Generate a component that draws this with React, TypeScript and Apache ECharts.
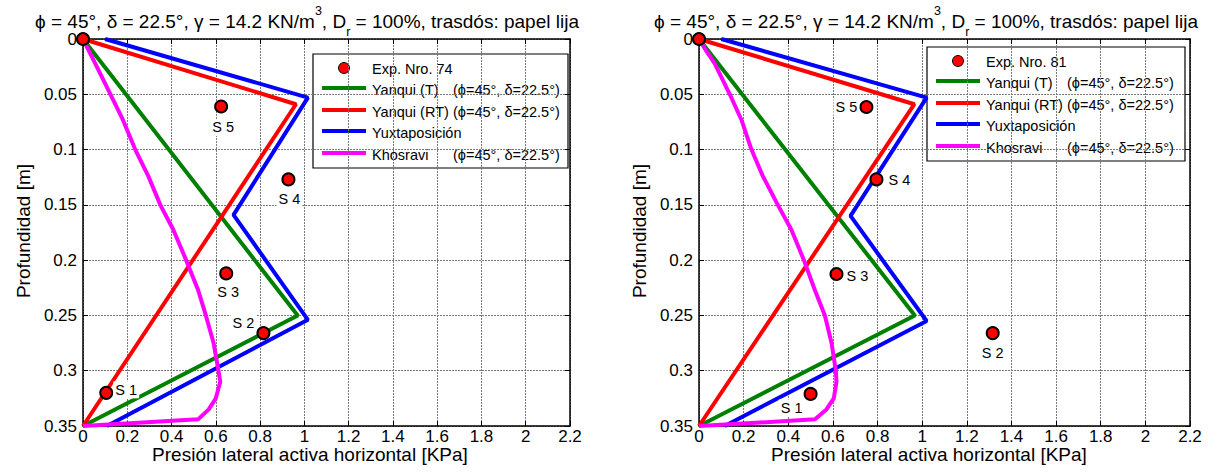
import React, { useEffect, useRef } from 'react';
import * as echarts from 'echarts';

const FONT = '"Liberation Sans", Arial, Helvetica, sans-serif';

// Axis ranges
const depthMin = 0;
const depthMax = 0.35;
const depthStep = 0.05;
const pressMin = 0;
const pressMax = 2.2;
const pressStep = 0.2;

// Texts
const titleParts = ['ϕ = 45°, δ = 22.5°, γ = 14.2 KN/m', '3', ', D', 'r', ' = 100%, trasdós: papel lija'];
const yName = 'Profundidad [m]';
const xName = 'Presión lateral activa horizontal [KPa]';
const legendNames = ['Yanqui (T)', 'Yanqui (RT)', 'Yuxtaposición', 'Khosravi'];
const legendParams = ['(ϕ=45°, δ=22.5°)', '(ϕ=45°, δ=22.5°)', '', '(ϕ=45°, δ=22.5°)'];
const legendColors = ['#008000', '#ff0000', '#0000ff', '#ff00ff'];

// Experimental points
const pointNames = ['', 'S 1', 'S 2', 'S 3', 'S 4', 'S 5'];
const exp74Pressure = [0, 0.105, 0.815, 0.647, 0.928, 0.624];
const exp74Depth = [0, 0.32, 0.266, 0.212, 0.127, 0.061];
const exp81Pressure = [0, 0.5, 1.316, 0.616, 0.795, 0.75];
const exp81Depth = [0, 0.321, 0.266, 0.2125, 0.127, 0.0615];

// Yanqui (T)
const yanquiTDepth = [0, 0.25, 0.35];
const yanquiT74 = [0, 0.97, 0];
const yanquiT81 = [0, 0.967, 0];
// Yanqui (RT)
const yanquiRTDepth = [0, 0.059, 0.35];
const yanquiRT74 = [0, 0.962, 0];
const yanquiRT81 = [0, 0.965, 0];
// Yuxtaposición
const yuxDepth74 = [0, 0.053, 0.159, 0.254, 0.35];
const yux74 = [0.1, 1.016, 0.68, 1.016, 0.108];
const yuxDepth81 = [0, 0.053, 0.16, 0.255, 0.35];
const yux81 = [0.1, 1.02, 0.679, 1.02, 0.115];
// Khosravi
const khosDepth = [0, 0.01, 0.022, 0.05, 0.073, 0.1, 0.124, 0.15, 0.1725, 0.2, 0.227, 0.25, 0.275, 0.3, 0.31, 0.325, 0.335, 0.344, 0.35];
const khos74 = [0, 0.025, 0.055, 0.124, 0.18, 0.236, 0.295, 0.349, 0.408, 0.466, 0.52, 0.555, 0.59, 0.612, 0.62, 0.6, 0.568, 0.52, 0];
const khos81 = [0, 0.03, 0.07, 0.138, 0.19, 0.235, 0.286, 0.353, 0.414, 0.47, 0.519, 0.564, 0.594, 0.613, 0.616, 0.604, 0.571, 0.52, 0];

// Label placement (pixel offsets from each point)
const labelOffsets74 = [[0, 0], [20, -3], [-20, -10], [2, 19], [1, 20], [2, 21]];
const labelOffsets81 = [[0, 0], [-19, 14], [0, 20], [21, 2], [23, 1], [-20, 0]];

const panels = [
  {
    expName: 'Exp. Nro. 74', grid: { left: 83, top: 39, width: 487, height: 387 },
    titleX: 307, xNameX: 310, yNameX: 23,
    legend: { x: 313, y: 54, w: 255, h: 114 },
    pts: [exp74Pressure, exp74Depth], offsets: labelOffsets74,
    lines: [[yanquiT74, yanquiTDepth], [yanquiRT74, yanquiRTDepth], [yux74, yuxDepth74], [khos74, khosDepth]],
  },
  {
    expName: 'Exp. Nro. 81', grid: { left: 699, top: 39, width: 491, height: 387 },
    titleX: 926, xNameX: 929, yNameX: 639,
    legend: { x: 927, y: 47, w: 258, h: 114 },
    pts: [exp81Pressure, exp81Depth], offsets: labelOffsets81,
    lines: [[yanquiT81, yanquiTDepth], [yanquiRT81, yanquiRTDepth], [yux81, yuxDepth81], [khos81, khosDepth]],
  },
];

const fmt = (v: number) => String(Math.round(v * 1000) / 1000);

function buildOption() {
  const grids: any[] = [];
  const xAxes: any[] = [];
  const yAxes: any[] = [];
  const series: any[] = [];
  const graphics: any[] = [];
  const axisLine = { show: true, onZero: false, lineStyle: { color: '#000', width: 1.5 } };
  const axisTick = { show: true, inside: true, length: 5, lineStyle: { color: '#000', width: 1 } };
  const splitLine = { show: true, lineStyle: { color: '#7a7a7a', width: 1, type: [2, 1] } };

  panels.forEach((p, gi) => {
    grids.push({ ...p.grid, containLabel: false, show: false });
    const xBase = { gridIndex: gi, type: 'value', min: pressMin, max: pressMax, interval: pressStep };
    const yBase = { gridIndex: gi, type: 'value', min: depthMin, max: depthMax, interval: depthStep, inverse: true };
    xAxes.push({
      ...xBase, position: 'bottom', axisLine, axisTick, splitLine,
      axisLabel: { color: '#000', fontSize: 17, lineHeight: 14, fontFamily: FONT, margin: 3, formatter: fmt },
    });
    xAxes.push({ ...xBase, position: 'top', axisLine, axisTick, splitLine: { show: false }, axisLabel: { show: false } });
    yAxes.push({
      ...yBase, position: 'left', axisLine, axisTick, splitLine,
      axisLabel: { color: '#000', fontSize: 17, fontFamily: FONT, margin: 6, formatter: fmt },
    });
    yAxes.push({ ...yBase, position: 'right', axisLine, axisTick, splitLine: { show: false }, axisLabel: { show: false } });

    p.lines.forEach(([press, depth], li) => {
      series.push({
        name: legendNames[li], type: 'line', xAxisIndex: gi * 2, yAxisIndex: gi * 2,
        data: press.map((v, i) => [v, depth[i]]), symbol: 'none', clip: false, z: 3,
        lineStyle: { color: legendColors[li], width: 4 }, itemStyle: { color: legendColors[li] },
      });
    });

    const [pp, pd] = p.pts;
    series.push({
      name: p.expName, type: 'scatter', xAxisIndex: gi * 2, yAxisIndex: gi * 2, clip: false, z: 5,
      symbol: 'circle', symbolSize: 12,
      itemStyle: { color: '#ff0000', borderColor: '#000', borderWidth: 2, opacity: 1 },
      label: {
        show: true, position: 'inside', color: '#000', fontSize: 14.5, fontFamily: FONT,
        backgroundColor: '#fff', padding: [1, 2], align: 'center', verticalAlign: 'middle',
      },
      data: pp.map((v, i) => ({
        value: [v, pd[i]],
        label: { show: pointNames[i] !== '', formatter: pointNames[i], offset: p.offsets[i] },
      })),
    });

    // Title
    graphics.push({
      type: 'text', x: p.titleX, y: 21, z: 100,
      style: {
        text: `{a|${titleParts[0]}}{s|${titleParts[1]}}{a|${titleParts[2]}}{b|${titleParts[3]}}{a|${titleParts[4]}}`,
        align: 'center', verticalAlign: 'middle',
        rich: {
          a: { fontSize: 19, fontFamily: FONT, fill: '#000', lineHeight: 34 },
          s: { fontSize: 12.5, fontFamily: FONT, fill: '#000', verticalAlign: 'top' },
          b: { fontSize: 12.5, fontFamily: FONT, fill: '#000', verticalAlign: 'bottom' },
        },
      },
    });
    // Axis names
    graphics.push({
      type: 'text', x: p.xNameX, y: 454, z: 100,
      style: { text: xName, fontSize: 19, lineHeight: 16, fontFamily: FONT, fill: '#000', align: 'center', verticalAlign: 'middle' },
    });
    graphics.push({
      type: 'text', x: p.yNameX, y: 231, rotation: Math.PI / 2, z: 100,
      style: { text: yName, fontSize: 19, fontFamily: FONT, fill: '#000', align: 'center', verticalAlign: 'middle' },
    });
    // Legend
    const L = p.legend;
    const children: any[] = [
      { type: 'rect', shape: { x: 0, y: 0, width: L.w, height: L.h }, style: { fill: '#fff', stroke: '#000', lineWidth: 1.2 } },
      { type: 'circle', shape: { cx: 31, cy: 14, r: 5.5 }, style: { fill: '#ff0000', stroke: '#000', lineWidth: 1 } },
      { type: 'text', x: 59, y: 15, style: { text: p.expName, fontSize: 14.5, fontFamily: FONT, fill: '#000', verticalAlign: 'middle' } },
    ];
    const rowY = [34, 56, 77, 99];
    legendNames.forEach((n, i) => {
      children.push({ type: 'line', shape: { x1: 9, y1: rowY[i], x2: 53, y2: rowY[i] }, style: { stroke: legendColors[i], lineWidth: 4 } });
      children.push({ type: 'text', x: 59, y: rowY[i] + 2, style: { text: n, fontSize: 14.5, fontFamily: FONT, fill: '#000', verticalAlign: 'middle' } });
      if (legendParams[i]) {
        children.push({ type: 'text', x: 140, y: rowY[i] + 2, style: { text: legendParams[i], fontSize: 14.5, fontFamily: FONT, fill: '#000', verticalAlign: 'middle' } });
      }
    });
    graphics.push({ type: 'group', x: L.x, y: L.y, z: 100, children });
  });

  return {
    animation: false,
    backgroundColor: '#fff',
    textStyle: { fontFamily: FONT },
    grid: grids,
    xAxis: xAxes,
    yAxis: yAxes,
    series,
    graphic: graphics,
  };
}

export default function App() {
  const ref = useRef<HTMLDivElement>(null);
  useEffect(() => {
    if (!ref.current) return;
    const chart = echarts.init(ref.current, undefined, { renderer: 'svg' });
    chart.setOption(buildOption() as any);
    return () => chart.dispose();
  }, []);
  return <div ref={ref} style={{ position: 'fixed', left: 0, top: 0, width: 1214, height: 475, background: '#fff' }} />;
}
